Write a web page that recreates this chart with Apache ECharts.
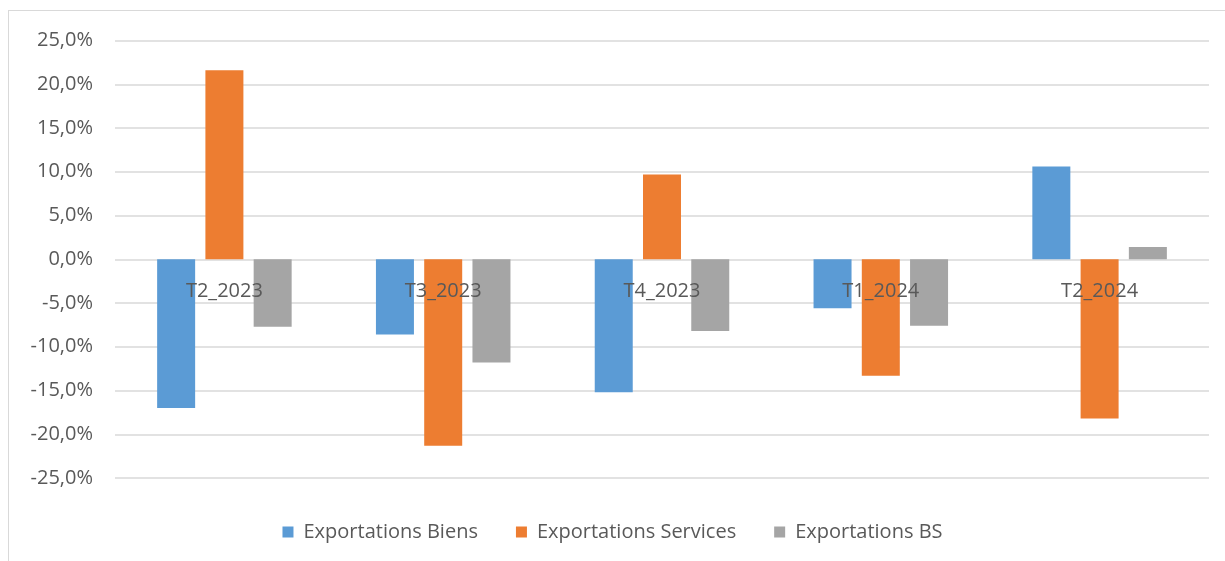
<!DOCTYPE html>
<html>
<head>
<meta charset="utf-8">
<script src="https://cdn.jsdelivr.net/npm/echarts@6/dist/echarts.min.js"></script>
<style>
html,body{margin:0;padding:0;background:#fff;overflow:hidden;}
#frame{position:absolute;left:8px;top:10px;width:1300px;height:600px;border:1.5px solid #d9d9d9;box-sizing:border-box;}
#chart{position:absolute;left:0;top:0;width:1225px;height:561px;}
</style>
</head>
<body>
<div id="frame"></div>
<div id="chart"></div>
<script>
const categories = ['T2_2023', 'T3_2023', 'T4_2023', 'T1_2024', 'T2_2024'];
const biens = [-17.0, -8.6, -15.2, -5.6, 10.6];
const services = [21.6, -21.3, 9.7, -13.3, -18.2];
const bs = [-7.7, -11.8, -8.2, -7.6, 1.4];
const seriesNames = ['Exportations Biens', 'Exportations Services', 'Exportations BS'];
const colors = ['#5b9bd5', '#ed7d31', '#a5a5a5'];

const chart = echarts.init(document.getElementById('chart'), null, {renderer: 'canvas'});
const fmt = v => v.toFixed(1).replace('.', ',') + '%';
const gridTop = 40.5, gridBottom = 83;
const gridH = 561 - gridTop - gridBottom;
chart.setOption({
  animation: false,
  color: colors,
  textStyle: {fontFamily: 'Open Sans, Noto Sans, sans-serif'},
  grid: {left: 115, right: 16, top: gridTop, bottom: gridBottom},
  legend: {
    top: 517,
    left: 'center',
    itemWidth: 11, itemHeight: 11, itemGap: 38,
    icon: 'rect',
    textStyle: {fontSize: 20, color: '#595959', padding: [0, 0, 0, 5]},
    data: seriesNames
  },
  xAxis: {
    type: 'category',
    data: categories,
    z: 10,
    offset: -gridH / 2,
    axisLine: {onZero: false, show: false},
    axisTick: {show: false},
    axisLabel: {fontSize: 20, color: '#595959', margin: 22}
  },
  yAxis: {
    type: 'value',
    min: -25, max: 25, interval: 5,
    axisLine: {show: false},
    axisTick: {show: false},
    axisLabel: {fontSize: 20, color: '#595959', margin: 22, formatter: fmt},
    splitLine: {lineStyle: {color: '#d9d9d9', width: 1.5}}
  },
  series: [
    {name: seriesNames[0], type: 'bar', data: biens, barWidth: 38, barGap: '27%'},
    {name: seriesNames[1], type: 'bar', data: services, barWidth: 38, barGap: '27%'},
    {name: seriesNames[2], type: 'bar', data: bs, barWidth: 38, barGap: '27%'}
  ]
});
</script>
</body>
</html>
